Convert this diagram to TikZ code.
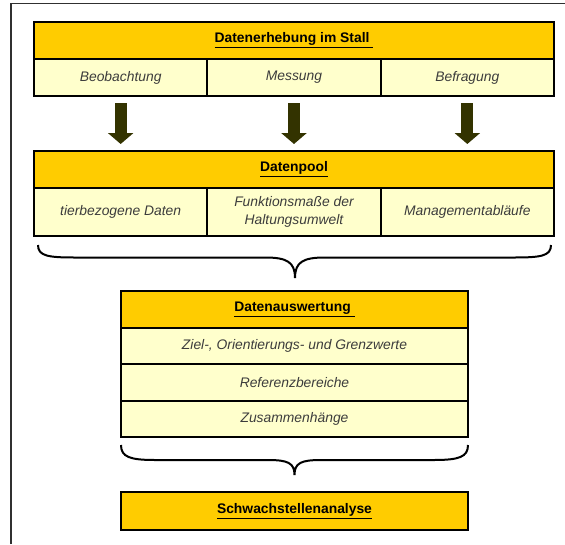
\documentclass[tikz,border=0pt]{standalone}
\usepackage{fontspec}
\setmainfont{Liberation Sans}
\usetikzlibrary{arrows.meta}
\definecolor{headfill}{HTML}{FFCC00}
\definecolor{cellfill}{HTML}{FFFFCC}
\definecolor{cellink}{HTML}{3C3C3C}
\definecolor{arrowink}{HTML}{333300}
\definecolor{frameink}{HTML}{303030}
\tikzset{
  head/.style={fill=headfill,draw=black,line width=1.5pt,font=\fontsize{10.4pt}{12pt}\selectfont\bfseries,text=black},
  cell/.style={fill=cellfill,draw=black,line width=1.5pt,font=\fontsize{10.4pt}{13pt}\selectfont\itshape,text=cellink,align=center},
  frame/.style={draw=frameink,line width=1.1pt},
  brace/.style={draw=black,line width=1.5pt},
  blockarrow/.style={draw=arrowink,line width=9pt,-{Triangle[length=8.25pt,width=18.75pt]},shorten <=5.25pt,shorten >=5.25pt}
}

\begin{document}
\begin{tikzpicture}[x=0.75pt,y=-0.75pt,every node/.style={inner sep=0pt,outer sep=0pt}]
\path[use as bounding box] (0,0) rectangle (565,544);
\draw[frame] (11,544) -- (11,3.5) -- (565,3.5);

% Datenerhebung
\node[head,minimum width=390pt,minimum height=27.75pt] (survey) at (294,40.5) {\underline{Datenerhebung im Stall\ }};
\node[cell,minimum width=130pt,minimum height=27.75pt] (observation) at (120.67,77.5) {Beobachtung};
\node[cell,minimum width=130pt,minimum height=27.75pt] (measurement) at (294,77.5) {Messung};
\node[cell,minimum width=130pt,minimum height=27.75pt] (inquiry) at (467.33,77.5) {Befragung};

% Datenpool
\node[head,minimum width=390pt,minimum height=27.75pt] (pool) at (294,169.5) {\underline{Datenpool}};
\node[cell,minimum width=130pt,minimum height=36pt] (animal) at (120.67,212) {tierbezogene Daten};
\node[cell,minimum width=130pt,minimum height=36pt] (housing) at (294,212) {Funktionsmaße der\\Haltungsumwelt};
\node[cell,minimum width=130pt,minimum height=36pt] (management) at (467.33,212) {Managementabläufe};

\draw[blockarrow] (observation.south) -- (observation.south |- pool.north);
\draw[blockarrow] (measurement.south) -- (measurement.south |- pool.north);
\draw[blockarrow] (inquiry.south) -- (inquiry.south |- pool.north);

\draw[brace] (38,245) .. controls (38,256) and (48,257.5) .. (75,257.5) -- (265,257.5) .. controls (287,257.5) and (295,262) .. (295,278) .. controls (295,262) and (303,257.5) .. (325,257.5) -- (514,257.5) .. controls (541,257.5) and (551,256) .. (551,245);

% Datenauswertung
\node[head,minimum width=260.25pt,minimum height=27.4pt] (analysis) at (294.5,309.5) {\underline{Datenauswertung\ }};
\node[cell,minimum width=260.25pt,minimum height=27.4pt] (targets) at (294.5,346) {Ziel-, Orientierungs- und Grenzwerte};
\node[cell,minimum width=260.25pt,minimum height=27.4pt] (ranges) at (294.5,382.5) {Referenzbereiche};
\node[cell,minimum width=260.25pt,minimum height=27.4pt] (relations) at (294.5,419) {Zusammenhänge};

\draw[brace] (121,445) .. controls (121,457) and (130,460) .. (155,460) -- (268,460) .. controls (288,460) and (294.5,463) .. (294.5,475) .. controls (294.5,463) and (301,460) .. (321,460) -- (434,460) .. controls (459,460) and (468,457) .. (468,445);

% Schwachstellenanalyse
\node[head,minimum width=260.25pt,minimum height=28.5pt] (weakness) at (294.5,511) {\underline{Schwachstellenanalyse}};
\end{tikzpicture}
\end{document}
